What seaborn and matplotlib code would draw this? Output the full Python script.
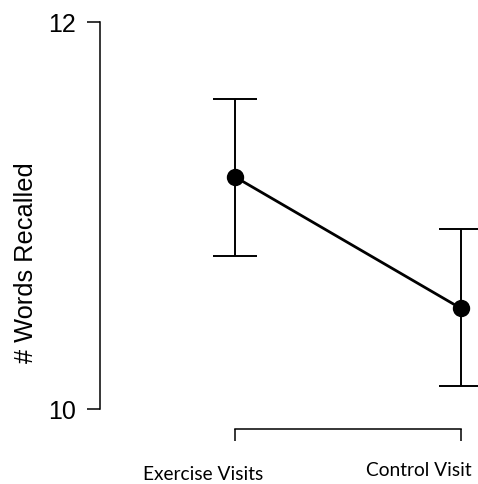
import matplotlib
matplotlib.use("Agg")
import matplotlib.pyplot as plt
import seaborn as sns
import pandas as pd

# ── Data ──────────────────────────────────────────────────────────────────────
conditions = ["Exercise Visits", "Control Visit"]
means = [11.20, 10.52]
ci_low = [10.79, 10.12]
ci_high = [11.60, 10.93]
y_ticks = [10, 12]

df = pd.DataFrame({"condition": conditions, "words": means})

sns.set_theme(style="white")
plt.rcParams["font.family"] = ["Liberation Sans", "DejaVu Sans"]
plt.rcParams.update({
    "text.color": "black",
    "axes.labelcolor": "black",
    "xtick.color": "black",
    "ytick.color": "black",
})

fig = plt.figure(figsize=(4.78, 4.84), dpi=100)
ax = fig.add_axes([0.2092, 0.1136, 0.7908, 0.8864])

sns.pointplot(data=df, x="condition", y="words", color="black",
              errorbar=None, markers="o", markersize=11,
              linewidth=2.0, ax=ax)

xpos = list(range(len(conditions)))
yerr = [[m - lo for m, lo in zip(means, ci_low)],
        [hi - m for m, hi in zip(means, ci_high)]]
ax.errorbar(xpos, means, yerr=yerr, fmt="none", ecolor="black",
            elinewidth=1.4, capsize=16, capthick=1.4, zorder=1)

ax.set_xlim(-0.597, 1.075)
ax.set_ylim(9.897, 12.114)

for s in ["top", "right"]:
    ax.spines[s].set_visible(False)
for s in ["left", "bottom"]:
    ax.spines[s].set_color("black")
    ax.spines[s].set_linewidth(1.1)
ax.spines["left"].set_bounds(10, 12)
ax.spines["bottom"].set_bounds(0, 1)

ax.set_yticks(y_ticks)
ax.set_yticklabels([str(t) for t in y_ticks], fontsize=18, color="black")
ax.set_xticks(xpos)
ax.set_xticklabels([])
ax.tick_params(axis="y", direction="out", length=9.4, width=1.1,
               color="black", pad=8, left=True)
ax.tick_params(axis="x", direction="out", length=8.6, width=1.1,
               color="black", bottom=True)
ax.set_xlabel("")
ax.set_ylabel("")

fig.text(26 / 478, 1 - 263 / 484, "# Words Recalled", rotation=90,
         ha="center", va="center", fontsize=18.3, color="black")

# category labels sit below the axis in a different face
fig.text(203 / 478, 1 - 475 / 484, conditions[0], ha="center", va="center",
         fontsize=13.8, color="black", family=["Lato", "DejaVu Sans"])
fig.text(419 / 478, 1 - 470 / 484, conditions[1], ha="center", va="center",
         fontsize=13.8, color="black", family=["Lato", "DejaVu Sans"])

fig.savefig("out.png", dpi=100, facecolor="white")
